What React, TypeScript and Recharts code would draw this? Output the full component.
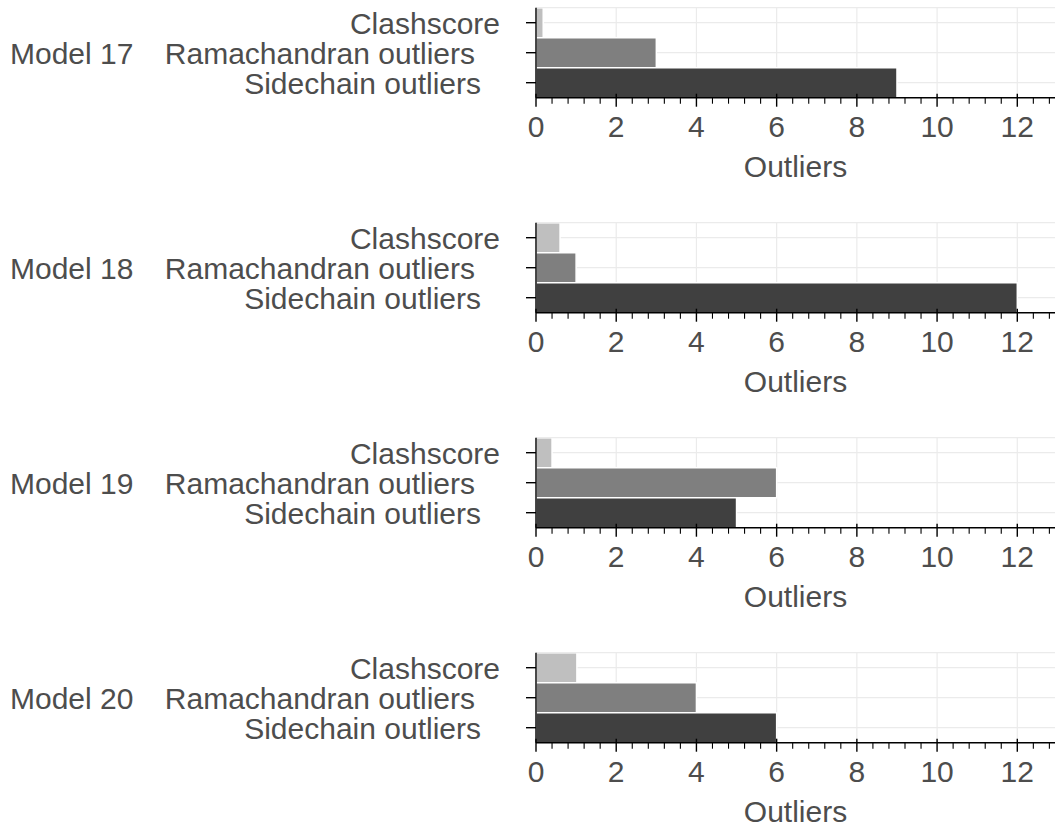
import React from 'react';
import { BarChart, Bar, XAxis, YAxis, CartesianGrid, Cell, ReferenceLine, Label } from 'recharts';

const MODELS = ['Model 17', 'Model 18', 'Model 19', 'Model 20'];
const CATEGORIES = ['Clashscore', 'Ramachandran outliers', 'Sidechain outliers'];
const CLASHSCORE = [0.18, 0.6, 0.4, 1.02];
const RAMACHANDRAN = [3, 1, 6, 4];
const SIDECHAIN = [9, 12, 5, 6];

const MAJOR_TICKS = [0, 2, 4, 6, 8, 10, 12];
const MINOR_TICKS = [
  0, 0.4, 0.8, 1.2, 1.6, 2, 2.4, 2.8, 3.2, 3.6, 4, 4.4, 4.8, 5.2, 5.6, 6, 6.4,
  6.8, 7.2, 7.6, 8, 8.4, 8.8, 9.2, 9.6, 10, 10.4, 10.8, 11.2, 11.6, 12, 12.4, 12.8,
];
const X_MAX = 12.94;

const BAR_COLORS = ['#bfbfbf', '#7f7f7f', '#404040'];
// gap between the end of each category label and the y axis
const LABEL_GAP: Record<string, number> = {
  Clashscore: 36,
  'Ramachandran outliers': 61,
  'Sidechain outliers': 55,
};

const FONT = '"Liberation Sans", Arial, Helvetica, sans-serif';
const FONT_SIZE = 30;
const TEXT = '#4d4d4d';
const GRID = '#ebebeb';
const PANEL_H = 215;

const XTick = (props: any) => {
  const { x, y, payload } = props;
  const v = payload.value;
  const major = MAJOR_TICKS.includes(v);
  return (
    <g>
      <line
        x1={x}
        x2={x}
        y1={major ? y - 4 : y}
        y2={major ? y + 9 : y + 6}
        stroke="#000"
        strokeWidth={major ? 1.4 : 1.1}
      />
      {major && (
        <text x={x} y={y + 39.5} textAnchor="middle" fontSize={FONT_SIZE} fill={TEXT} fontFamily={FONT}>
          {v}
        </text>
      )}
    </g>
  );
};

const YTick = (props: any) => {
  const { x, y, payload, model } = props;
  const name = payload.value;
  return (
    <g>
      <line x1={x - 10} x2={x} y1={y} y2={y} stroke="#000" strokeWidth={1.4} />
      <text
        x={x - LABEL_GAP[name]}
        y={y + 11}
        textAnchor="end"
        fontSize={FONT_SIZE}
        fill={TEXT}
        fontFamily={FONT}
      >
        {name}
      </text>
      {name === CATEGORIES[1] && (
        <text x={10} y={y + 11} textAnchor="start" fontSize={FONT_SIZE} fill={TEXT} fontFamily={FONT}>
          {model}
        </text>
      )}
    </g>
  );
};

const AxisTitle = (props: any) => {
  const vb = props.viewBox || {};
  return (
    <text
      x={vb.x + vb.width / 2}
      y={vb.y + 79}
      textAnchor="middle"
      fontSize={FONT_SIZE}
      fill={TEXT}
      fontFamily={FONT}
    >
      Outliers
    </text>
  );
};

const Panel = ({ index }: { index: number }) => {
  const values = [CLASHSCORE[index], RAMACHANDRAN[index], SIDECHAIN[index]];
  const data = CATEGORIES.map((name, i) => ({ name, value: values[i] }));
  const model = MODELS[index];
  return (
    <BarChart
      width={1055}
      height={PANEL_H}
      data={data}
      layout="vertical"
      margin={{ top: 7.7, right: 0, left: 0, bottom: 0 }}
      barCategoryGap={0}
    >
      <CartesianGrid stroke={GRID} strokeWidth={1.2} verticalValues={MAJOR_TICKS} horizontalValues={CATEGORIES} />
      <ReferenceLine y={CATEGORIES[0]} position="start" stroke={GRID} strokeWidth={1.2} />
      <Bar dataKey="value" isAnimationActive={false} stroke="#fff" strokeWidth={1.5}>
        {data.map((d, i) => (
          <Cell key={d.name} fill={BAR_COLORS[i]} />
        ))}
      </Bar>
      <XAxis
        type="number"
        domain={[0, X_MAX]}
        allowDataOverflow
        ticks={MINOR_TICKS}
        interval={0}
        tickSize={0}
        tickMargin={0}
        tickLine={false}
        tick={<XTick />}
        axisLine={{ stroke: '#000', strokeWidth: 1.4 }}
        height={PANEL_H - 7.7 - 90}
      >
        <Label content={<AxisTitle />} />
      </XAxis>
      <YAxis
        type="category"
        dataKey="name"
        width={536}
        tickSize={0}
        tickMargin={0}
        tickLine={false}
        interval={0}
        tick={(p: any) => <YTick {...p} model={model} />}
        axisLine={{ stroke: '#000', strokeWidth: 1.4 }}
      />
    </BarChart>
  );
};

export default function App() {
  return (
    <div style={{ position: 'absolute', left: 0, top: 0, width: 1055, height: 827, background: '#fff' }}>
      {MODELS.map((m, i) => (
        <Panel key={m} index={i} />
      ))}
    </div>
  );
}
